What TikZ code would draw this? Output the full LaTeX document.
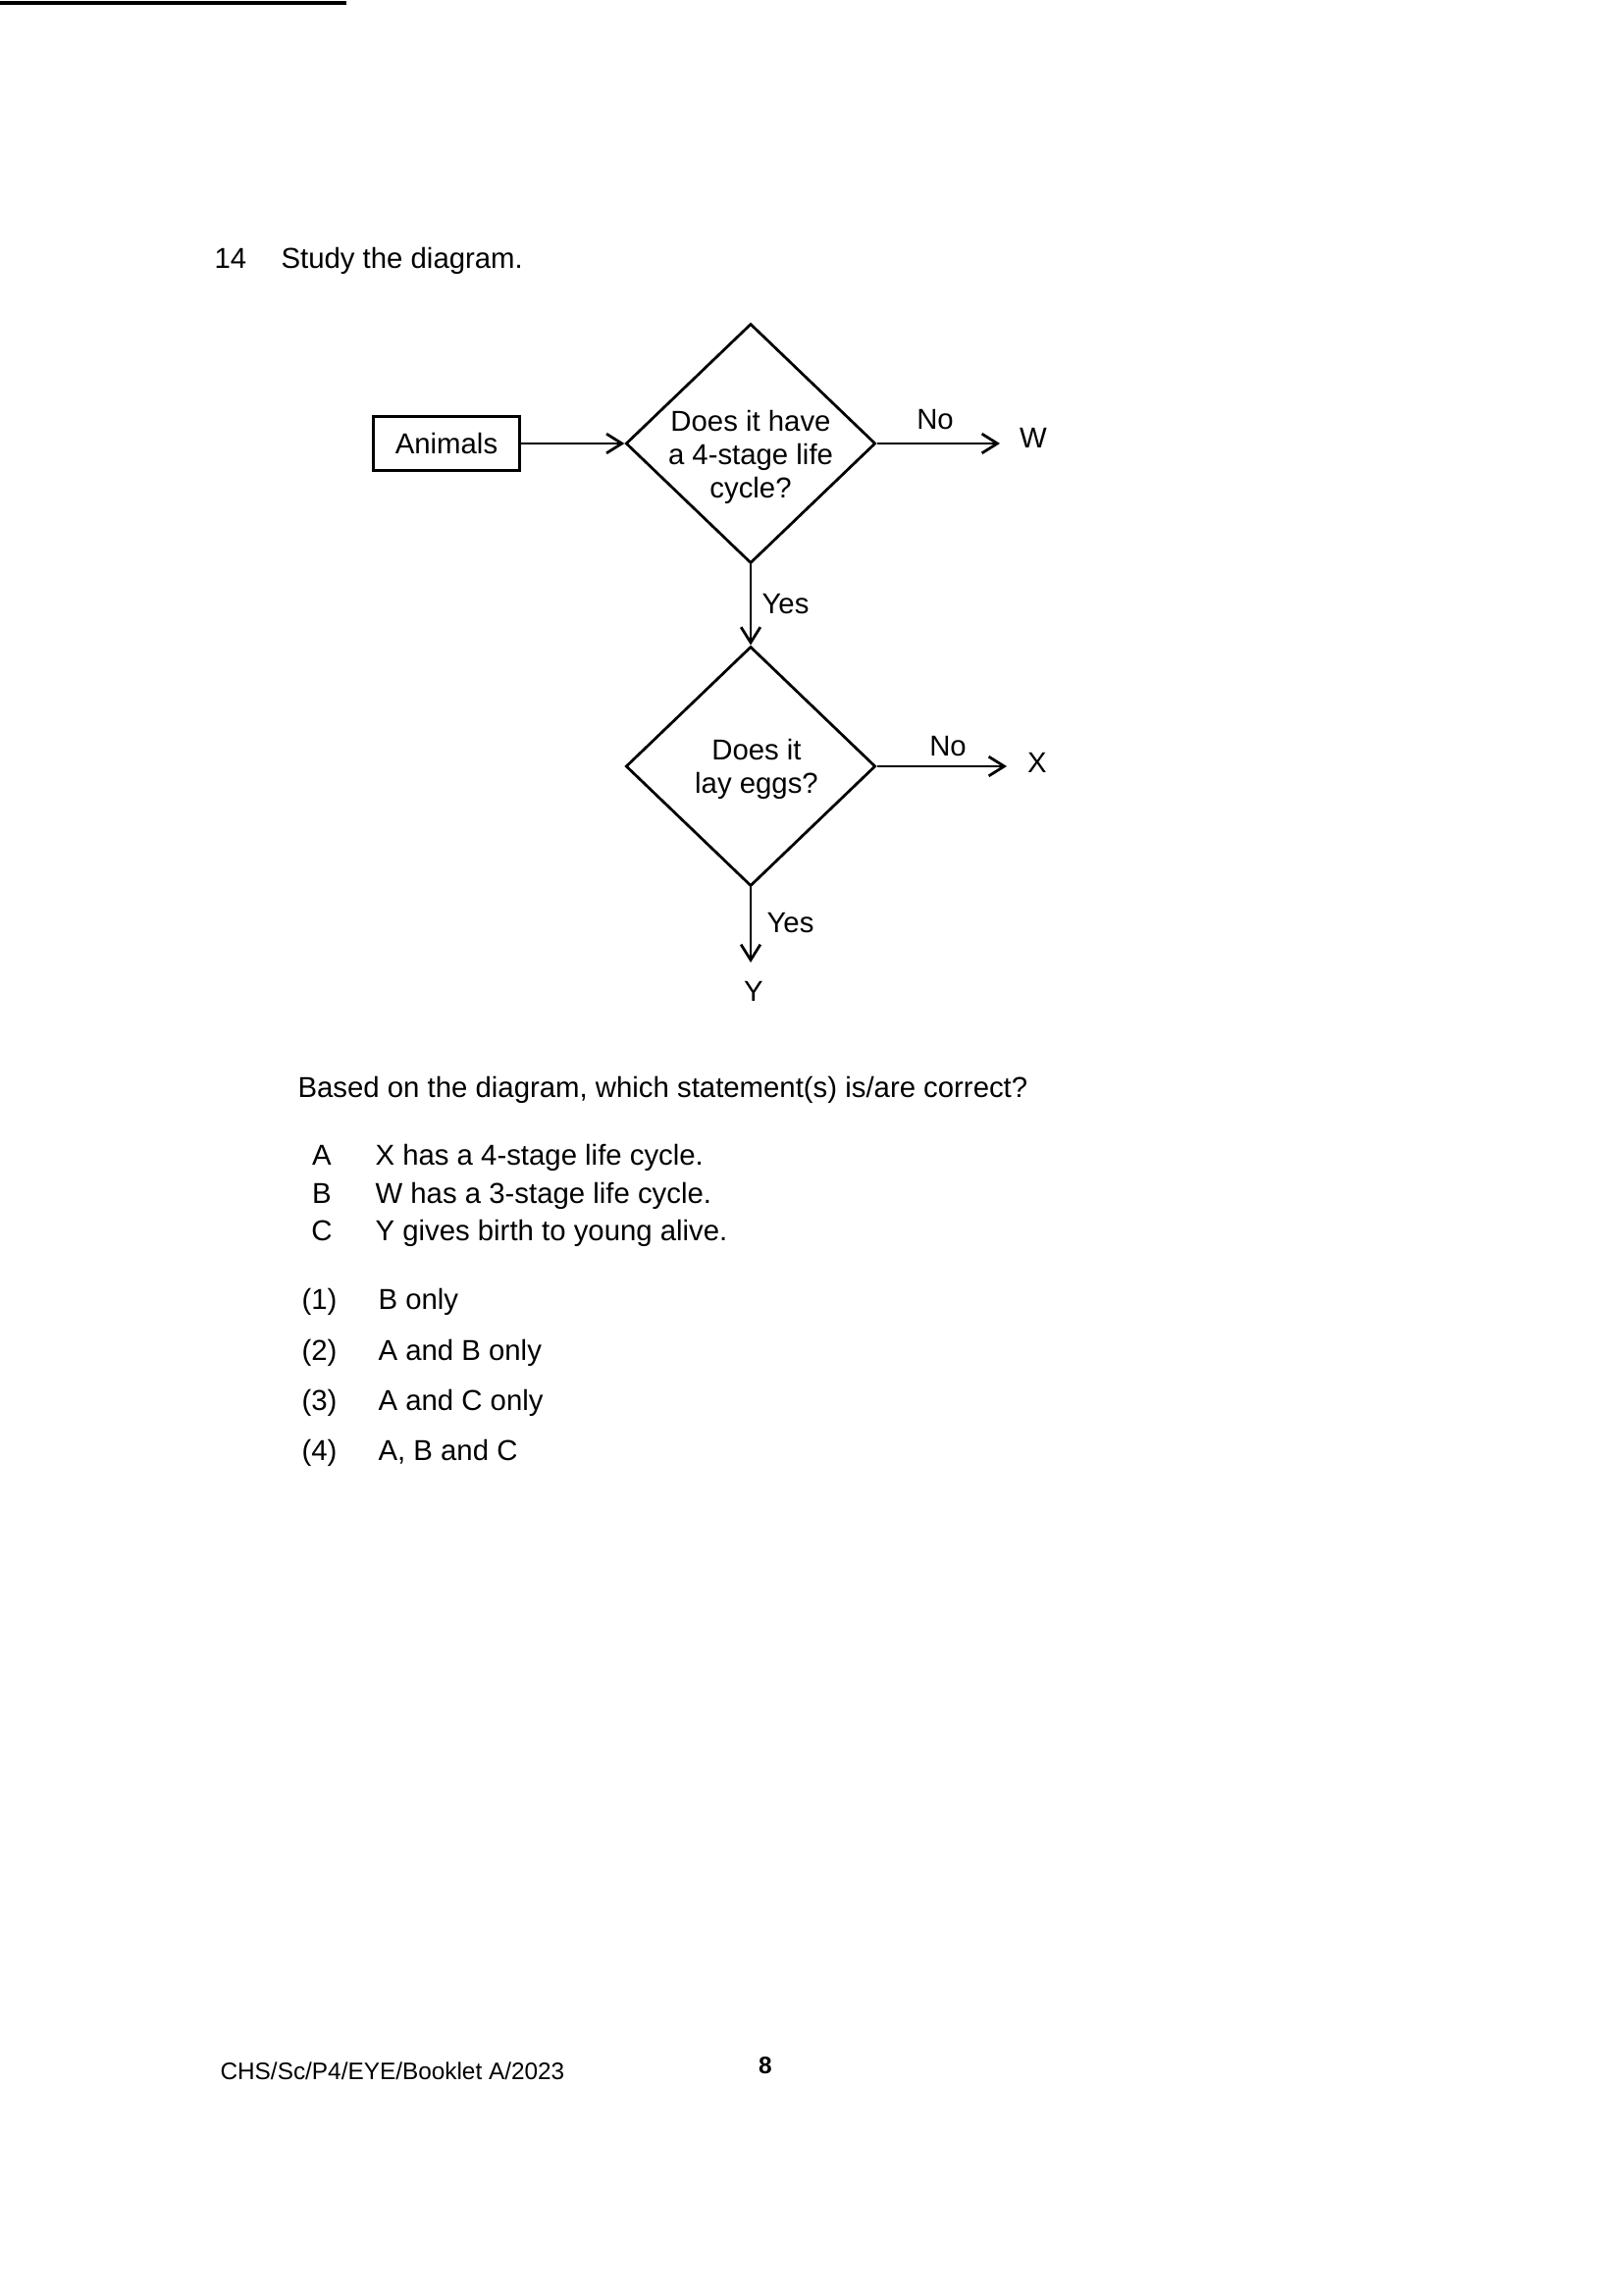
\documentclass[tikz,border=0pt]{standalone}
\usepackage{fontspec}
\setmainfont{Liberation Sans}
\usetikzlibrary{shapes.geometric,arrows.meta}
\begin{document}
\begin{tikzpicture}[x=0.12696mm,y=-0.12696mm,
  txt/.style={font=\fontsize{10.6}{12.3}\selectfont, inner sep=0pt},
  foot/.style={font=\fontsize{8.8}{10}\selectfont, inner sep=0pt},
  dia/.style={draw, diamond, shape aspect=1, inner sep=0pt, minimum width=32.3mm, minimum height=31mm, line width=1pt},
  box/.style={draw, line width=1pt, minimum width=18.9mm, minimum height=6.9mm, inner sep=0pt, font=\fontsize{10.6}{12.3}\selectfont},
  conn/.style={line width=1pt, -{Straight Barb[length=2mm,width=2.5mm]}},
]
\useasboundingbox (0,0) rectangle (1654,2338);
\fill[white] (0,0) rectangle (1654,2338);
\draw[line width=0.6mm] (0,3) -- (353,3);

\node[txt, anchor=base west] (qnum) at (218,274) {14};
\node[txt, anchor=base west] (qtext) at (286,274) {Study the diagram.};

\node[box] (animals) at (455,452) {Animals};
\node[dia] (d1) at (765,452) {};
\node[txt, align=center] (d1t) at (765,466) {Does it have\\a 4-stage life\\cycle?};
\node[dia] (d2) at (765,781) {};
\node[txt, align=center] (d2t) at (771,784) {Does it\\lay eggs?};

\coordinate (wend) at (1019,452);
\node[txt] (W) at (1053,446) {W};
\coordinate (xend) at (1026,781);
\node[txt] (X) at (1057,777) {X};
\coordinate (yend) at (765,981);
\node[txt] (Y) at (768,1010) {Y};

\draw[conn] (animals.east) -- (d1.west);
\draw[conn] (d1.east) -- (wend);
\draw[conn] (d1.south) -- (d2.north);
\draw[conn] (d2.east) -- (xend);
\draw[conn] (d2.south) -- (yend);

\node[txt] (no1) at (953,428) {No};
\node[txt] (no2) at (966,761) {No};
\node[txt, anchor=west] (yes1) at (776,616) {Yes};
\node[txt, anchor=west] (yes2) at (781,941) {Yes};

\node[txt, anchor=base west] (question) at (303,1118) {Based on the diagram, which statement(s) is/are correct?};

\node[txt, anchor=base] (la) at (328,1187) {A};
\node[txt, anchor=base west] (sa) at (382,1187) {X has a 4-stage life cycle.};
\node[txt, anchor=base] (lb) at (328,1226) {B};
\node[txt, anchor=base west] (sb) at (382,1226) {W has a 3-stage life cycle.};
\node[txt, anchor=base] (lc) at (328,1264) {C};
\node[txt, anchor=base west] (sc) at (382,1264) {Y gives birth to young alive.};

\node[txt, anchor=base west] (o1) at (307,1334) {(1)};
\node[txt, anchor=base west] (t1) at (385,1334) {B only};
\node[txt, anchor=base west] (o2) at (307,1386) {(2)};
\node[txt, anchor=base west] (t2) at (385,1386) {A and B only};
\node[txt, anchor=base west] (o3) at (307,1437) {(3)};
\node[txt, anchor=base west] (t3) at (385,1437) {A and C only};
\node[txt, anchor=base west] (o4) at (307,1488) {(4)};
\node[txt, anchor=base west] (t4) at (385,1488) {A, B and C};

\node[foot, anchor=base west] (footer) at (224,2119) {CHS/Sc/P4/EYE/Booklet A/2023};
\node[foot, anchor=base, font=\fontsize{8.8}{10}\selectfont\bfseries] (page) at (780,2113) {8};
\end{tikzpicture}
\end{document}
